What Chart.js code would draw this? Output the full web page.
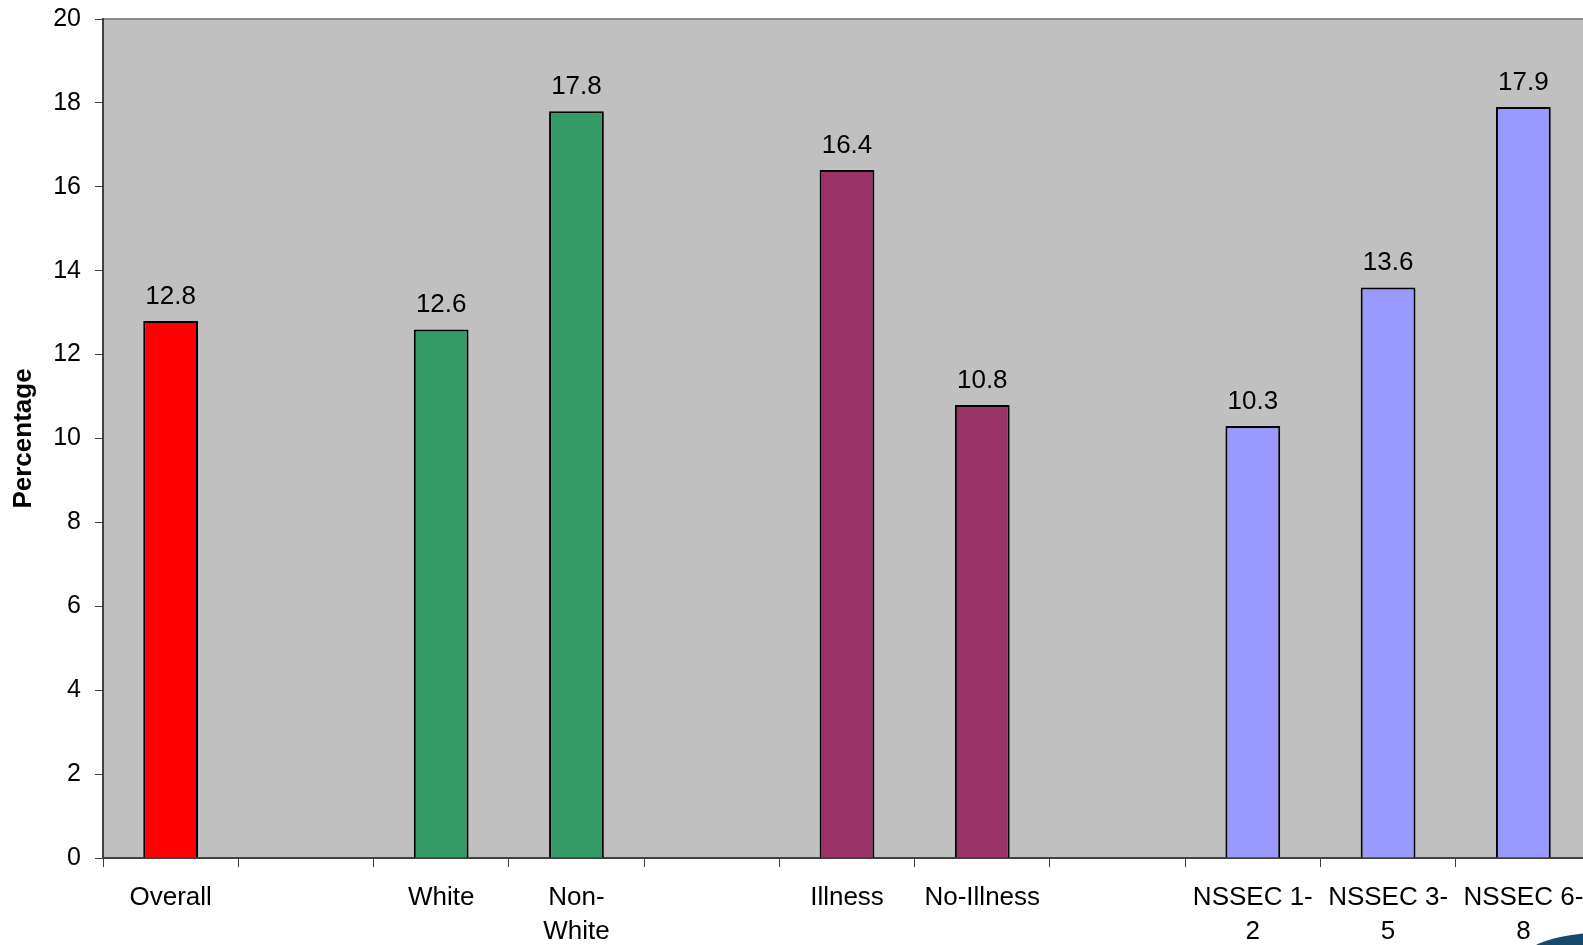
<!DOCTYPE html>
<html>
<head>
<meta charset="utf-8">
<title>Percentage by group</title>
<script src="https://cdn.jsdelivr.net/npm/chart.js@4/dist/chart.umd.min.js"></script>
<style>
  html, body { margin: 0; padding: 0; background: #fff; overflow: hidden; }
  #wrap { position: relative; width: 1600px; height: 945px; }
</style>
</head>
<body>
<div id="wrap"><canvas id="chart"></canvas></div>
<script>
// Groups with empty slots between them
const categories = [
    'Overall', '', 'White', ['Non-', 'White'], '', 'Illness', 'No-Illness', '',
    ['NSSEC 1-', '2'], ['NSSEC 3-', '5'], ['NSSEC 6-', '8']
];
const percentages = [12.8, null, 12.6, 17.8, null, 16.4, 10.8, null, 10.3, 13.6, 17.9];
const barColors = [
    '#FF0000', null, '#339966', '#339966', null, '#993366', '#993366', null,
    '#9999FF', '#9999FF', '#9999FF'
];
const yTicks = [0, 2, 4, 6, 8, 10, 12, 14, 16, 18, 20];

const FONT = 'Arial, "Liberation Sans", sans-serif';

// Grey plot background with a thin top border
const plotBackground = {
    id: 'plotBackground',
    beforeDraw(chart) {
        const { ctx, chartArea: a } = chart;
        ctx.save();
        ctx.fillStyle = '#C0C0C0';
        ctx.fillRect(a.left, a.top, a.right - a.left, a.bottom - a.top);
        ctx.strokeStyle = '#8A8A8A';
        ctx.lineWidth = 2;
        ctx.beginPath();
        ctx.moveTo(a.left, a.top);
        ctx.lineTo(a.right, a.top);
        ctx.stroke();
        ctx.restore();
    }
};

// Value printed above each bar
const valueLabels = {
    id: 'valueLabels',
    afterDatasetsDraw(chart) {
        const { ctx } = chart;
        const meta = chart.getDatasetMeta(0);
        ctx.save();
        ctx.font = '26px ' + FONT;
        ctx.fillStyle = '#000';
        ctx.textAlign = 'center';
        ctx.textBaseline = 'alphabetic';
        meta.data.forEach((bar, i) => {
            const v = percentages[i];
            if (v == null) return;
            ctx.fillText(v.toFixed(1), bar.x, bar.y - 17);
        });
        ctx.restore();
    }
};

// Corner swoosh of the slide template
const cornerSwoosh = {
    id: 'cornerSwoosh',
    afterDraw(chart) {
        const { ctx } = chart;
        ctx.save();
        ctx.fillStyle = '#17496F';
        ctx.beginPath();
        ctx.moveTo(1536, 945);
        ctx.quadraticCurveTo(1555, 935, 1600, 932);
        ctx.lineTo(1600, 945);
        ctx.closePath();
        ctx.fill();
        ctx.restore();
    }
};

new Chart(document.getElementById('chart').getContext('2d'), {
    type: 'bar',
    data: {
        labels: categories,
        datasets: [{
            data: percentages,
            backgroundColor: barColors,
            borderColor: '#000',
            borderWidth: 2,
            barPercentage: 0.405,
            categoryPercentage: 1
        }]
    },
    options: {
        responsive: true,
        maintainAspectRatio: false,
        animation: false,
        layout: { padding: { top: 19, right: 9, left: 0, bottom: 0 } },
        plugins: {
            legend: { display: false },
            tooltip: { enabled: false }
        },
        scales: {
            x: {
                grid: {
                    offset: true,
                    drawOnChartArea: false,
                    tickLength: 9,
                    color: '#404040',
                    lineWidth: 1
                },
                border: { color: '#404040', width: 2 },
                ticks: {
                    autoSkip: false,
                    maxRotation: 0,
                    padding: 14,
                    color: '#000',
                    font: { family: FONT, size: 26, lineHeight: 1.3 }
                },
                afterFit(scale) {
                    scale.height = 87;
                    scale.paddingLeft = 0;
                    scale.paddingRight = 0;
                }
            },
            y: {
                min: 0,
                max: 20,
                afterBuildTicks(scale) { scale.ticks = yTicks.map(v => ({ value: v })); },
                grid: {
                    drawOnChartArea: false,
                    tickLength: 8,
                    color: '#404040',
                    lineWidth: 1
                },
                border: { color: '#404040', width: 2 },
                ticks: {
                    padding: 14,
                    color: '#000',
                    font: { family: FONT, size: 25 }
                },
                title: {
                    display: true,
                    text: 'Percentage',
                    color: '#000',
                    padding: { top: 8, bottom: 0 },
                    font: { family: FONT, size: 26, weight: 'bold' }
                },
                afterFit(scale) {
                    scale.width = 103;
                    scale.paddingTop = 0;
                    scale.paddingBottom = 0;
                }
            }
        }
    },
    plugins: [plotBackground, valueLabels, cornerSwoosh]
});
</script>
</body>
</html>
